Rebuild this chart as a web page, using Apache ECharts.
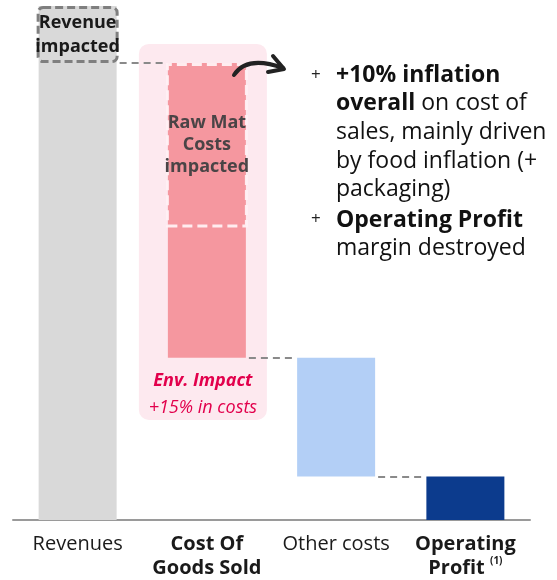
<!DOCTYPE html>
<html>
<head>
<meta charset="utf-8">
<script src="https://cdn.jsdelivr.net/npm/echarts@6/dist/echarts.min.js"></script>
<style>
  html, body { margin: 0; padding: 0; background: #fff; }
  #main { width: 557px; height: 580px; }
</style>
</head>
<body>
<div id="main"></div>
<script>
// categories + values (waterfall, arbitrary units)
var categories = ["Revenues", "Cost Of\nGoods Sold", "Other costs", "Operating\nProfit"];
var values = [100, 64.5, 26, 9.5];
var revenueImpacted = 12.5;   // dashed box on top of revenues
var rawMatImpacted = 36;      // dashed part at top of COGS
var envBand = [21.9, 104.2];  // pink highlight behind COGS (from, to)

var font = "'Open Sans', 'Noto Sans', sans-serif";

// waterfall base / tops
var tops = [values[0]];
var bases = [0];
var run = values[0];
for (var i = 1; i < values.length - 1; i++) {
  bases.push(run - values[i]);
  tops.push(run);
  run = run - values[i];
}
bases.push(0);
tops.push(values[values.length - 1]);

function only(idx, v) {
  return categories.map(function (c, i) { return i === idx ? v : "-"; });
}

// dashed connectors, on hidden value axis (category i spans i..i+1)
var half = 0.305;
var connectors = [];
for (var k = 0; k < values.length - 1; k++) {
  var y = k === 0 ? tops[0] : bases[k];
  connectors.push({ coords: [[k + 0.5 + half + 0.02, y], [k + 1.5 - half, y]] });
}

// outline boxes (transparent base + dashed box)
var outlineBase = categories.map(function (c, i) {
  if (i === 0) return values[0];
  if (i === 1) return tops[1] - rawMatImpacted;
  return "-";
});
var outlineSize = [revenueImpacted, rawMatImpacted, "-", "-"];

var myChart = echarts.init(document.getElementById("main"));
var option = {
  animation: false,
  grid: [
    { left: 13, right: 27, top: 6, bottom: 60 },
    { left: 9, right: 31, top: 6, bottom: 60 }
  ],
  xAxis: [
    {
      type: "category",
      data: categories,
      axisTick: { show: false },
      axisLine: { lineStyle: { color: "#9a9a9a", width: 2 } },
      axisLabel: {
        interval: 0,
        margin: 12,
        fontFamily: font,
        fontSize: 20,
        color: "#1a1a1a",
        lineHeight: 24,
        formatter: function (v, i) {
          if (i === 1) return "{b|Cost Of}\n{b|Goods Sold}";
          if (i === 3) return "{b|Operating}\n{b|Profit} {s|(1)}";
          return v;
        },
        rich: {
          b: { fontFamily: font, fontSize: 20, fontWeight: "bold", color: "#1a1a1a", lineHeight: 24 },
          s: { fontFamily: font, fontSize: 10, fontWeight: "bold", color: "#1a1a1a", verticalAlign: "top", lineHeight: 24, padding: [0, 0, 8, 0] }
        }
      }
    },
    { type: "category", gridIndex: 1, data: categories, show: false },
    { type: "value", min: 0, max: categories.length, show: false },
    { type: "category", data: categories, show: false }
  ],
  yAxis: [
    { type: "value", min: 0, max: 112.5, show: false },
    { type: "value", gridIndex: 1, min: 0, max: 112.5, show: false }
  ],
  series: [
    // pink highlight band
    {
      type: "bar", xAxisIndex: 1, yAxisIndex: 1, stack: "bg", barWidth: 128, z: 1,
      itemStyle: { color: "transparent" },
      data: only(1, envBand[0])
    },
    {
      type: "bar", xAxisIndex: 1, yAxisIndex: 1, stack: "bg", barWidth: 128, z: 1,
      itemStyle: { color: "#fde9ef", borderRadius: 10 },
      label: {
        show: true, position: "insideBottom", distance: -1,
        formatter: "{a|Env. Impact}\n{b|+15% in costs}",
        rich: {
          a: { fontFamily: font, fontSize: 18, fontWeight: "bold", fontStyle: "italic", color: "#e2004c", lineHeight: 27 },
          b: { fontFamily: font, fontSize: 18, fontStyle: "italic", color: "#e2004c", lineHeight: 27 }
        }
      },
      data: only(1, envBand[1] - envBand[0])
    },
    // waterfall
    {
      type: "bar", stack: "w", barWidth: 78, z: 2,
      itemStyle: { color: "transparent" },
      data: bases
    },
    {
      type: "bar", stack: "w", barWidth: 78, z: 2,
      itemStyle: { color: "#d9d9d9" },
      data: only(0, values[0] + revenueImpacted)
    },
    {
      type: "bar", stack: "w", barWidth: 78, z: 2,
      itemStyle: { color: "#f5979f" },
      data: only(1, values[1])
    },
    {
      type: "bar", stack: "w", barWidth: 78, z: 2,
      itemStyle: { color: "#b3cff6" },
      data: only(2, values[2])
    },
    {
      type: "bar", stack: "w", barWidth: 78, z: 2,
      itemStyle: { color: "#0c3b8d" },
      data: only(3, values[3])
    },
    // dashed outline boxes
    {
      type: "bar", xAxisIndex: 3, stack: "o", barWidth: 82, z: 3,
      itemStyle: { color: "transparent" },
      data: outlineBase
    },
    {
      type: "bar", xAxisIndex: 3, stack: "o", barWidth: 82, z: 3,
      itemStyle: {
        color: "transparent",
        borderWidth: 3,
        borderType: [8, 4],
        borderRadius: 5,
        borderColor: "#7f7f7f"
      },
      label: {
        show: true, position: "inside",
        formatter: function (p) {
          return p.dataIndex === 0 ? "{r|Revenue}\n{r|impacted}" : "{m|Raw Mat}\n{m|Costs}\n{m|impacted}";
        },
        rich: {
          r: { fontFamily: font, fontSize: 18, fontWeight: "bold", color: "#1a1a1a", lineHeight: 24 },
          m: { fontFamily: font, fontSize: 18, fontWeight: "bold", color: "#4a4446", lineHeight: 22 }
        }
      },
      data: outlineSize.map(function (v, i) {
        if (v === "-") return v;
        return {
          value: v,
          itemStyle: i === 0
            ? { borderColor: "#7f7f7f", borderRadius: 5 }
            : { borderColor: "rgba(255,240,243,0.95)", borderRadius: 0, borderType: [10, 5] }
        };
      })
    },
    {
      type: "lines", coordinateSystem: "cartesian2d", xAxisIndex: 2, z: 4,
      lineStyle: { color: "#8a8a8a", width: 2, type: [7, 5], opacity: 1 },
      data: connectors
    }
  ],
  graphic: [
    {
      type: "bezierCurve", z: 10,
      shape: { x1: 234, y1: 75, cpx1: 247, cpy1: 55, x2: 283, y2: 68 },
      style: { stroke: "#222", lineWidth: 4, fill: null, lineCap: "round" }
    },
    {
      type: "polyline", z: 10,
      shape: { points: [[273, 56], [284, 69], [268, 72]] },
      style: { stroke: "#222", lineWidth: 4, fill: null, lineCap: "round", lineJoin: "round" }
    },
    {
      type: "text", left: 311, top: 67,
      style: { text: "+", font: "17px " + font, fill: "#222" }
    },
    {
      type: "text", left: 311, top: 211,
      style: { text: "+", font: "17px " + font, fill: "#222" }
    },
    {
      type: "text", left: 336, top: 61,
      style: {
        text: "{b|+10% inflation}\n{b|overall} on cost of\nsales, mainly driven\nby food inflation (+\npackaging)",
        fontFamily: font, fontSize: 23, fill: "#111", lineHeight: 28.6,
        rich: { b: { fontFamily: font, fontSize: 23, fontWeight: "bold", fill: "#111", lineHeight: 28.6 } }
      }
    },
    {
      type: "text", left: 336, top: 206,
      style: {
        text: "{b|Operating Profit}\nmargin destroyed",
        fontFamily: font, fontSize: 23, fill: "#111", lineHeight: 28.6,
        rich: { b: { fontFamily: font, fontSize: 23, fontWeight: "bold", fill: "#111", lineHeight: 28.6 } }
      }
    }
  ]
};
myChart.setOption(option);
</script>
</body>
</html>
